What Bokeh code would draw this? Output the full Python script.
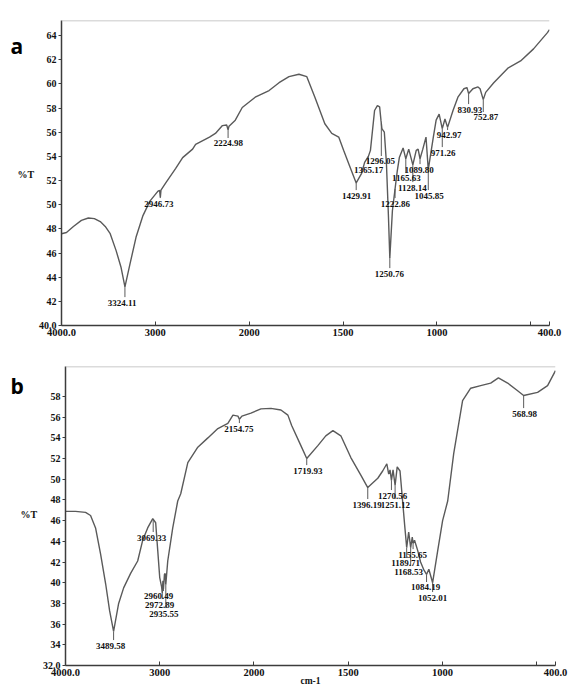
import numpy as np
from bokeh.plotting import figure
from bokeh.models import Range1d, FixedTicker, Span, ColumnDataSource, CustomJSTickFormatter
from bokeh.layouts import column, row
from bokeh.embed import file_html
from bokeh.resources import INLINE
from bokeh.core.properties import value

# ---------------- data: panel a ----------------
wa = [4000, 3947, 3873, 3788, 3714, 3650, 3587, 3534, 3481, 3418, 3365, 3324, 3270, 3206, 3132, 3058,
      2974, 2955, 2947, 2940, 2889, 2783, 2709, 2603, 2571, 2423, 2360, 2285, 2240, 2225, 2215, 2148,
      2074, 1968, 1894, 1841, 1788, 1735, 1693, 1650, 1597, 1560, 1523, 1497, 1465, 1429.9, 1401, 1385,
      1365, 1354, 1332, 1317, 1305, 1298, 1293, 1280, 1269, 1258, 1250.8, 1237, 1222.9, 1211, 1200,
      1180, 1165.6, 1150, 1128.1, 1110, 1100, 1089.8, 1075, 1058, 1045.9, 1020, 1004, 988, 971.3, 957,
      943, 914, 888, 856, 840, 830.9, 808, 781, 770, 752.9, 740, 697, 622, 554, 485, 411, 400]
ta = [47.6, 47.7, 48.2, 48.7, 48.9, 48.85, 48.6, 48.2, 47.6, 46.2, 44.8, 43.2, 45.1, 47.3, 49.1, 50.3,
      51.1, 51.2, 50.6, 51.2, 51.8, 53.0, 53.9, 54.6, 55.0, 55.6, 55.9, 56.55, 56.6, 56.2, 56.5, 57.0,
      58.05, 58.9, 59.45, 60.1, 60.6, 60.8, 60.6, 58.9, 56.7, 55.9, 55.6, 54.5, 53.2, 51.8, 52.6, 53.5,
      54.0, 54.5, 57.8, 58.2, 58.1, 57.0, 56.3, 56.0, 53.5, 49.0, 45.6, 49.5, 51.3, 52.8, 53.9,
      54.7, 53.8, 54.6, 53.3, 54.5, 54.6, 53.8, 54.6, 55.6, 52.9, 55.5, 57.0, 57.5, 56.3, 57.1,
      56.4, 57.8, 58.9, 59.6, 59.7, 59.2, 59.6, 59.75, 59.6, 58.7, 59.3, 60.1, 61.3, 61.9, 62.9, 64.25, 64.5]

pa_w = [3324.11, 2946.73, 2224.98, 1429.91, 1365.17, 1296.05, 1250.76, 1222.86, 1165.63, 1128.14,
        1089.80, 1045.85, 971.26, 942.97, 830.93, 752.87]
pa_txt = ["3324.11", "2946.73", "2224.98", "1429.91", "1365.17", "1296.05", "1250.76", "1222.86",
          "1165.63", "1128.14", "1089.80", "1045.85", "971.26", "942.97", "830.93", "752.87"]
pa_lx = [3355, 2963, 2222, 1428, 1364, 1301, 1253, 1221, 1163, 1131, 1094, 1041, 967, 935, 824, 739]
pa_ly = [41.9, 50.1, 55.07, 50.76, 52.91, 53.58, 44.30, 50.10, 52.17, 51.42, 52.91, 50.76, 54.32,
         55.73, 57.88, 57.22]
pa_align = ["center"] * 16

# ---------------- data: panel b ----------------
wb = [4000, 3894, 3787, 3734, 3681, 3628, 3574, 3532, 3489.6, 3436, 3383, 3309, 3234, 3181, 3128, 3074,
      3043, 3021, 3000, 2980, 2972.9, 2966, 2960.5, 2950, 2942, 2935.6, 2915, 2862, 2809, 2777, 2702,
      2596, 2489, 2383, 2277, 2223, 2170, 2154.8, 2128, 2032, 1963, 1910, 1857, 1820, 1800, 1751,
      1719.9, 1661, 1619, 1581, 1539, 1486, 1433, 1396.2, 1343, 1317, 1295, 1285, 1278, 1270.6, 1262,
      1251.1, 1240, 1225, 1200, 1189.7, 1179, 1168.5, 1160, 1155.7, 1148, 1131, 1116, 1100, 1084.2,
      1072, 1052, 1025, 999, 972, 940, 893, 850, 797, 744, 703, 654, 601, 569, 495, 442, 400]
tb = [46.9, 46.9, 46.8, 46.5, 45.3, 42.8, 39.9, 37.3, 35.3, 38.0, 39.5, 40.9, 42.1, 44.1, 45.3, 46.2,
      45.8, 43.1, 40.5, 39.6, 39.0, 40.2, 39.4, 40.8, 40.9, 39.8, 42.1, 45.3, 47.9, 48.6, 51.6,
      53.1, 54.0, 54.9, 55.4, 56.2, 56.1, 55.8, 56.1, 56.4, 56.8, 56.85, 56.7, 56.2, 55.2, 53.25,
      52.0, 53.25, 54.2, 54.7, 54.2, 52.1, 50.4, 49.2, 50.1, 50.8, 51.5, 50.5, 50.9, 49.9, 50.9,
      49.4, 51.2, 50.8, 45.5, 43.4, 44.9, 43.4, 44.4, 43.8, 44.1, 43.1, 42.0, 41.3, 40.8,
      41.3, 40.0, 43.1, 46.0, 47.9, 52.5, 57.6, 58.8, 59.05, 59.3, 59.8, 59.3, 58.55, 58.1, 58.4, 59.05, 60.5]

pb_w = [3489.58, 3069.33, 2960.49, 2972.89, 2935.55, 2154.75, 1719.93, 1396.19, 1270.56, 1251.12,
        1189.71, 1168.53, 1155.65, 1084.19, 1052.01, 568.98]
pb_txt = ["3489.58", "3069.33", "2960.49", "2972.89", "2935.55", "2154.75", "1719.93", "1396.19",
          "1270.56", "1251.12", "1189.71", "1168.53", "1155.65", "1084.19", "1052.01", "568.98"]
pb_lx = [3521, 3085, 3011, 3000, 2957, 2160, 1714, 1322, 1264, 1327, 1195, 1179, 1158, 1089, 1052, 564]
pb_ly = [33.93, 44.37, 38.67, 37.89, 37.02, 54.90, 50.84, 47.56, 48.43, 47.56, 41.86, 41.08, 42.72,
         39.54, 38.57, 56.35]
pb_align = ["center"] * 7 + ["right", "center", "left"] + ["center"] * 6

# ---------------- axes ----------------
x_ticks = [4000, 3000, 2000, 1500, 1000, 500, 400]
x_labels = ["4000.0", "3000", "2000", "1500", "1000", "", "400.0"]
ya_ticks = [40, 42, 44, 46, 48, 50, 52, 54, 56, 58, 60, 62, 64]
ya_labels = ["40.0", "42", "44", "46", "48", "50", "52", "54", "56", "58", "60", "62", "64"]
yb_ticks = [32, 34, 36, 38, 40, 42, 44, 46, 48, 50, 52, 54, 56, 58]
yb_labels = ["32.0", "34", "36", "38", "40", "42", "44", "46", "48", "50", "52", "54", "56", "58"]

CURVE = "#5a5a5a"
AXIS = "#3c3c3c"
SERIF = "Liberation Serif"


def xt(w):
    """Instrument abscissa: wavenumber scale doubles below 2000 cm-1."""
    w = np.asarray(w, dtype=float)
    return np.where(w >= 2000, 4000 - w, 2000 + 2 * (2000 - w))


def fmt(tv, lb):
    return CustomJSTickFormatter(args=dict(tv=[float(t) for t in tv], lb=lb),
                                 code="""
        for (let i = 0; i < tv.length; i++) {
            if (Math.abs(tv[i] - tick) < 1e-6) { return lb[i]; }
        }
        return '';
    """)


def side(width, height, top, letter, letter_xy, pct_xy):
    """Narrow strip left of a panel holding the panel letter and the %T label (page pixel coords)."""
    s = figure(width=width, height=height, x_range=Range1d(0, width),
               y_range=Range1d(top + height, top), x_axis_location=None, y_axis_location=None,
               output_backend="svg", toolbar_location=None,
               min_border_left=0, min_border_right=0, min_border_top=0, min_border_bottom=0)
    s.outline_line_color = None
    s.xgrid.visible = False
    s.ygrid.visible = False
    s.border_fill_color = "white"
    s.background_fill_color = "white"
    s.text(x=[letter_xy[0]], y=[letter_xy[1]], text=[letter], text_font=value("Open Sans"),
           text_font_style="bold", text_font_size="21px", text_color="#000000",
           text_align="left", text_baseline="alphabetic")
    s.text(x=[pct_xy[0]], y=[pct_xy[1]], text=["%T"], text_font=value(SERIF),
           text_font_style="bold", text_font_size="10px", text_color="#111111",
           text_align="left", text_baseline="middle")
    return s


def panel(w, t, pw, ptxt, plx, ply, palign, yr, ytk, ylb, width, height, borders, gap):
    p = figure(width=width, height=height, x_range=Range1d(0, 5200), y_range=Range1d(*yr),
               output_backend="svg", toolbar_location=None,
               min_border_left=borders[0], min_border_right=borders[1],
               min_border_top=borders[2], min_border_bottom=borders[3])
    p.outline_line_color = None
    p.grid.grid_line_color = None
    p.background_fill_color = "white"
    p.border_fill_color = "white"

    xs = xt(w)
    p.line(xs, t, line_color=CURVE, line_width=1.4)

    # peak marker lines
    order = np.argsort(xs)
    sx, sy0, sy1 = [], [], []
    for wv, ly in zip(pw, ply):
        xv = float(xt(wv))
        cv = float(np.interp(xv, xs[order], np.asarray(t)[order]))
        if cv > ly + gap:
            sx.append(xv)
            sy0.append(cv)
            sy1.append(ly + gap)
    p.segment(x0=sx, y0=sy0, x1=sx, y1=sy1, line_color=CURVE, line_width=1)

    for al in ("center", "left", "right"):
        idx = [i for i, a in enumerate(palign) if a == al]
        if not idx:
            continue
        src = ColumnDataSource(dict(x=xt([plx[i] for i in idx]), y=[ply[i] for i in idx],
                                    t=[ptxt[i] for i in idx]))
        p.text(x="x", y="y", text="t", source=src, text_align=al, text_baseline="middle",
               text_font=value(SERIF), text_font_style="bold", text_font_size="9px",
               text_color="#111111")

    p.xaxis.ticker = FixedTicker(ticks=[float(v) for v in xt(x_ticks)])
    p.xaxis.formatter = fmt(xt(x_ticks), x_labels)
    p.xaxis.minor_tick_line_color = None
    p.xaxis.major_tick_in = 4
    p.xaxis.major_tick_out = 0
    p.xaxis.axis_line_color = AXIS
    p.xaxis.axis_line_width = 1.5
    p.xaxis.major_tick_line_color = AXIS
    p.xaxis.major_label_text_font = SERIF
    p.xaxis.major_label_text_font_style = "bold"
    p.xaxis.major_label_text_font_size = "10.5px"
    p.xaxis.major_label_text_color = "#111111"
    p.xaxis.major_label_standoff = 3

    p.yaxis.ticker = FixedTicker(ticks=ytk)
    p.yaxis.formatter = fmt(ytk, ylb)
    p.yaxis.minor_tick_line_color = None
    p.yaxis.major_tick_in = 0
    p.yaxis.major_tick_out = 3
    p.yaxis.axis_line_color = AXIS
    p.yaxis.axis_line_width = 1.5
    p.yaxis.major_tick_line_color = AXIS
    p.yaxis.major_label_text_font = SERIF
    p.yaxis.major_label_text_font_style = "bold"
    p.yaxis.major_label_text_font_size = "10px"
    p.yaxis.major_label_text_color = "#111111"
    p.yaxis.major_label_standoff = 2

    p.add_layout(Span(location=yr[1], dimension="width", line_color="#b8b8b8", line_width=1.5))
    return p


# page pixel layout (Bokeh's page has no body margin): panel a 0..355, panel b 355..688
sa = side(35, 355, 0, "a", (10, 30), (17, 179))
pa = panel(wa, ta, pa_w, pa_txt, pa_lx, pa_ly, pa_align, (40, 65.25), ya_ticks, ya_labels,
           540, 355, (23, 26, 20, 30), 0.45)

sb = side(38, 333, 355, "b", (10, 377), (20, 520))
pb = panel(wb, tb, pb_w, pb_txt, pb_lx, pb_ly, pb_align, (32, 60.9), yb_ticks, yb_labels,
           537, 333, (27, 20, 11, 23), 0.53)

# wavenumber unit label below the tick labels
pb.xaxis.axis_label = "cm-1"
pb.xaxis.axis_label_text_font = SERIF
pb.xaxis.axis_label_text_font_style = "bold"
pb.xaxis.axis_label_text_font_size = "9.5px"
pb.xaxis.axis_label_text_color = "#111111"
pb.xaxis.axis_label_standoff = -3

layout = column(row(sa, pa), row(sb, pb))
open("out.html", "w").write(file_html(layout, INLINE))
